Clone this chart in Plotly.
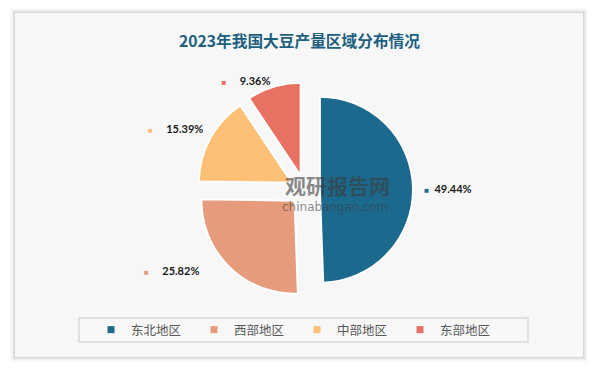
import plotly.graph_objects as go

W, H = 599, 371

title_text = "2023年我国大豆产量区域分布情况"
regions = ["东北地区", "西部地区", "中部地区", "东部地区"]
shares = [49.44, 25.82, 15.39, 9.36]
colors = ["#1b6a8e", "#e59b7c", "#fec076", "#e87262"]

NB = "\u00a0"


def px(x):
    return x / W


def py(y):
    return 1 - y / H


def mk(c):
    return f"<span style='color:{c};font-size:8px'>■</span>"


# outside labels: marker square + value (padding only shifts them away from the slice)
labels_text = [
    NB * 3 + mk(colors[0]) + NB * 2 + f"{shares[0]:.2f}%",
    mk(colors[1]) + NB * 5 + f"{shares[1]:.2f}%" + NB * 10,
    mk(colors[2]) + NB * 5 + f"{shares[2]:.2f}%" + "<br>" + NB,
    mk(colors[3]) + NB * 5 + f"{shares[3]:.2f}%",
]

fig = go.Figure()

fig.add_trace(go.Pie(
    labels=regions,
    values=shares,
    sort=False,
    direction="clockwise",
    rotation=0,
    pull=[0.16] * len(shares),
    marker=dict(colors=colors, line=dict(color="white", width=2)),
    text=labels_text,
    textinfo="text",
    textposition="outside",
    textfont=dict(family="Lato", size=11, color="#1a1a1a", weight="bold"),
    domain=dict(x=[px(305 - 108), px(305 + 108)], y=[py(190 + 108), py(190 - 108)]),
    showlegend=False,
    hoverinfo="label+value",
))

# legend entries
for name, c in zip(regions, colors):
    fig.add_trace(go.Scatter(
        x=[None], y=[None], mode="markers", name=name,
        marker=dict(symbol="square", size=7, color=c),
        showlegend=True,
    ))

shapes = []
# panel shadow
for i, op in enumerate([0.05, 0.04, 0.03, 0.02, 0.015]):
    d = i + 1
    shapes.append(dict(type="rect", xref="paper", yref="paper",
                       x0=px(15 - d), x1=px(583 + d), y0=py(357 + d), y1=py(13 - d),
                       line=dict(width=0), fillcolor=f"rgba(0,0,0,{op})", layer="below"))
shapes.append(dict(type="rect", xref="paper", yref="paper",
                   x0=px(15), x1=px(583), y0=py(357), y1=py(13),
                   line=dict(width=0), fillcolor="#f7f7f7", layer="below"))
# legend frame
shapes.append(dict(type="rect", xref="paper", yref="paper",
                   x0=px(79), x1=px(528), y0=py(342), y1=py(318),
                   line=dict(color="#d9d9d9", width=1.5), fillcolor="rgba(0,0,0,0)", layer="below"))

annotations = [
    dict(text="观研报告网", x=px(337), y=py(185), xref="paper", yref="paper",
         showarrow=False, font=dict(family="Noto Sans CJK SC", size=21, color="rgba(60,60,60,0.6)", weight="bold")),
    dict(text="chinabaogao.com", x=px(335), y=py(207), xref="paper", yref="paper",
         showarrow=False, font=dict(family="DejaVu Sans", size=12, color="rgba(60,60,60,0.6)")),
]

fig.update_layout(
    width=W, height=H,
    margin=dict(l=0, r=0, t=0, b=0),
    paper_bgcolor="white",
    plot_bgcolor="rgba(0,0,0,0)",
    title=dict(text=title_text, x=0.5, xanchor="center", y=py(42), yanchor="middle",
               font=dict(family="Noto Sans CJK SC", size=15.7, color="#1d5f7e", weight="bold")),
    xaxis=dict(visible=False),
    yaxis=dict(visible=False),
    legend=dict(orientation="h", x=px(297), xanchor="center", y=py(330), yanchor="middle",
                font=dict(family="Noto Sans CJK SC", size=12.5, color="#595959"),
                bgcolor="rgba(0,0,0,0)", entrywidth=58, itemwidth=30),
    shapes=shapes,
    annotations=annotations,
)

fig.write_html("out.html",
               config={"displayModeBar": False},
               post_script="document.body.style.margin='0';document.body.style.padding='0';")
